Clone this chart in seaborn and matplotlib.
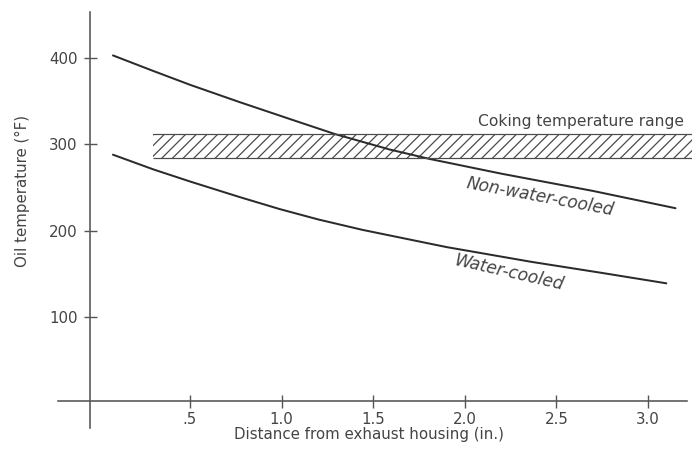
import matplotlib
matplotlib.use("Agg")
import matplotlib.pyplot as plt
import seaborn as sns
import pandas as pd

# ---- data ----
distance_non_water = [0.08, 0.30, 0.50, 0.77, 1.05, 1.29, 1.59, 1.81, 2.20, 2.70, 3.15]
temp_non_water = [403, 385, 369, 349, 329, 312, 294, 283, 266, 246, 226]

distance_water = [0.08, 0.30, 0.50, 0.77, 0.99, 1.20, 1.44, 1.90, 2.36, 2.75, 3.10]
temp_water = [288, 271, 257, 239, 225, 213, 201, 181, 164, 151, 139]

coking_low = 284
coking_high = 312
coking_x = [0.30, 3.24]

x_ticks = [0.5, 1.0, 1.5, 2.0, 2.5, 3.0]
x_tick_labels = [".5", "1.0", "1.5", "2.0", "2.5", "3.0"]
y_ticks = [100, 200, 300, 400]
y_tick_labels = ["100", "200", "300", "400"]

series_labels = ["Non-water-cooled", "Water-cooled"]

df = pd.concat([
    pd.DataFrame({"distance": distance_non_water, "temp": temp_non_water, "series": series_labels[0]}),
    pd.DataFrame({"distance": distance_water, "temp": temp_water, "series": series_labels[1]}),
])

# ---- styling ----
sns.set_theme(style="white")
plt.rcParams["font.family"] = ["DejaVu Sans"]
plt.rcParams["hatch.linewidth"] = 0.7

DPI = 128
W, H = 692, 452
px = 72.0 / DPI  # points per pixel

fig = plt.figure(figsize=(W / DPI, H / DPI), dpi=DPI)
ax_l, ax_r, ax_t, ax_b = 58, 692, 12, 428
ax = fig.add_axes([ax_l / W, (H - ax_b) / H, (ax_r - ax_l) / W, (ax_b - ax_t) / H])

line_col = "#2b2b2b"
axis_col = "#555555"
text_col = "#444444"

sns.lineplot(data=df, x="distance", y="temp", units="series", estimator=None,
             color=line_col, linewidth=2.0 * px, ax=ax, sort=True, legend=False)

# coking band
ax.fill_between(coking_x, coking_low, coking_high, facecolor="none",
                edgecolor="#4a4a4a", hatch="////", linewidth=0)
ax.hlines([coking_low, coking_high], coking_x[0], coking_x[1], color="#4a4a4a", linewidth=1.2 * px)

ax.set_xlim(-0.22, 3.24)
ax.set_ylim(-28.6, 453.3)

for s in ["top", "right"]:
    ax.spines[s].set_visible(False)
ax.spines["left"].set_position(("data", -0.045))
ax.spines["bottom"].set_position(("data", 3))
ax.spines["bottom"].set_bounds(-0.22, 3.21)
for s in ["left", "bottom"]:
    ax.spines[s].set_color(axis_col)
    ax.spines[s].set_linewidth(1.6 * px)

ax.set_xticks(x_ticks, x_tick_labels)
ax.set_yticks(y_ticks, y_tick_labels)
ax.tick_params(axis="both", direction="inout", length=13 * px, width=1.4 * px,
               color=axis_col, labelcolor=text_col, labelsize=15 * px,
               left=True, bottom=True)
ax.tick_params(axis="y", pad=6 * px)
ax.tick_params(axis="x", pad=5 * px)

ax.set_xlabel("Distance from exhaust housing (in.)", fontsize=15 * px, color=text_col, va="center")
ax.xaxis.set_label_coords((369 - ax_l) / (ax_r - ax_l), (ax_b - 435) / (ax_b - ax_t))
ax.set_ylabel("Oil temperature (°F)", fontsize=15 * px, color=text_col, va="center")
ax.yaxis.set_label_coords((22 - ax_l) / (ax_r - ax_l), (ax_b - 191) / (ax_b - ax_t))

ax.text(2.07, 326, "Coking temperature range", fontsize=15.5 * px, color=text_col,
        ha="left", va="center")
ax.text(2.41, 239, series_labels[0], fontsize=17 * px, color=text_col, style="italic",
        ha="center", va="center", rotation=-10.6, rotation_mode="anchor")
ax.text(2.24, 151, series_labels[1], fontsize=17 * px, color=text_col, style="italic",
        ha="center", va="center", rotation=-13, rotation_mode="anchor")

ax.set_facecolor("white")
fig.patch.set_facecolor("white")
fig.savefig("out.png", dpi=DPI)
